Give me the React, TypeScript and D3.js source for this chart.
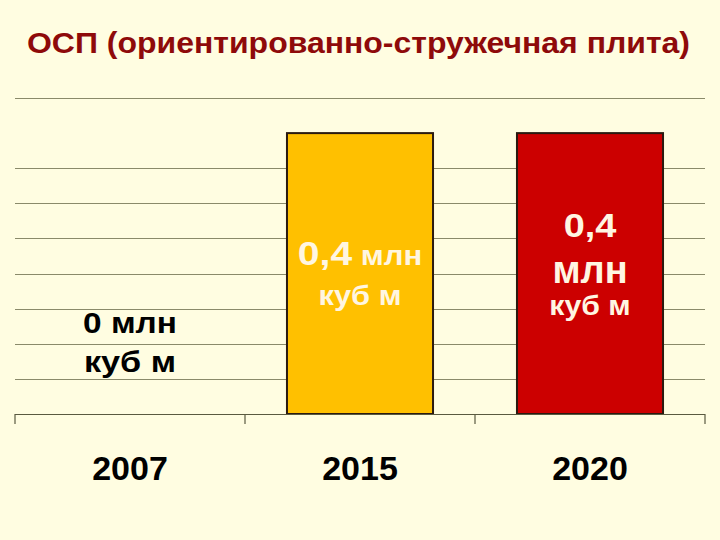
import React, { useEffect, useRef } from 'react';
import * as d3 from 'd3';

// chart data
const years = ['2007', '2015', '2020'];
const volumes = [0, 0.4, 0.4]; // млн куб м
const valueLabels = ['0', '0,4', '0,4'];
const gridValues = [0.05, 0.1, 0.15, 0.2, 0.25, 0.3, 0.35, 0.45];
const barColors = ['#FFC000', '#FFC000', '#CC0000'];
const title = 'ОСП (ориентированно-стружечная плита)';

const App = () => {
  const ref = useRef<SVGSVGElement>(null);

  useEffect(() => {
    document.body.style.margin = '0';

    const width = 720;
    const height = 540;
    const margin = { top: 98, right: 15, bottom: 126, left: 15 };
    const innerWidth = width - margin.left - margin.right;
    const innerHeight = height - margin.top - margin.bottom;

    const svg = d3.select(ref.current)
      .attr('width', width)
      .attr('height', height)
      .style('display', 'block')
      .style('font-family', '"Liberation Sans", Arial, sans-serif');

    svg.selectAll('*').remove();

    svg.append('rect')
      .attr('width', width)
      .attr('height', height)
      .attr('fill', '#FFFDE1');

    // title is a bit wider than Liberation at the same height
    svg.append('text')
      .attr('x', 27)
      .attr('y', 53)
      .attr('font-size', 29)
      .attr('font-weight', 'bold')
      .attr('fill', '#8E0A0A')
      .attr('textLength', 663)
      .attr('lengthAdjust', 'spacingAndGlyphs')
      .text(title);

    const chart = svg.append('g')
      .attr('transform', `translate(${margin.left}, ${margin.top})`);

    const x = d3.scaleBand()
      .domain(years)
      .range([0, innerWidth])
      .paddingInner(0.365)
      .paddingOuter(0.1825);

    const y = d3.scaleLinear()
      .domain([0, 0.45])
      .range([innerHeight, 0]);

    // gridlines
    chart.selectAll('line.grid')
      .data(gridValues)
      .join('line')
      .attr('class', 'grid')
      .attr('x1', 0)
      .attr('x2', innerWidth)
      .attr('y1', d => Math.round(y(d)) + 0.5)
      .attr('y2', d => Math.round(y(d)) + 0.5)
      .attr('stroke', '#8A8A6A')
      .attr('stroke-width', 1.2);

    // bars
    chart.selectAll('rect.bar')
      .data(volumes)
      .join('rect')
      .attr('class', 'bar')
      .attr('x', (d, i) => x(years[i])!)
      .attr('y', d => y(d))
      .attr('width', x.bandwidth())
      .attr('height', d => innerHeight - y(d))
      .attr('fill', (d, i) => barColors[i])
      .attr('stroke', d => (d > 0 ? '#2A1A10' : 'none'))
      .attr('stroke-width', 2);

    // x axis
    const axis = chart.append('g')
      .attr('transform', `translate(0, ${innerHeight})`);
    axis.append('line')
      .attr('x1', 0)
      .attr('x2', innerWidth)
      .attr('y1', 0.5)
      .attr('y2', 0.5)
      .attr('stroke', '#5A5A40')
      .attr('stroke-width', 1.2);
    const step = x.step();
    axis.selectAll('line.tick')
      .data(d3.range(years.length + 1))
      .join('line')
      .attr('class', 'tick')
      .attr('x1', i => Math.min(i * step, innerWidth))
      .attr('x2', i => Math.min(i * step, innerWidth))
      .attr('y1', 0)
      .attr('y2', 10)
      .attr('stroke', '#5A5A40')
      .attr('stroke-width', 1.2);
    axis.selectAll('text.year')
      .data(years)
      .join('text')
      .attr('class', 'year')
      .attr('x', d => x(d)! + x.bandwidth() / 2)
      .attr('y', 66)
      .attr('text-anchor', 'middle')
      .attr('font-size', 34)
      .attr('font-weight', 'bold')
      .attr('fill', '#000')
      .text(d => d);

    // value labels (slightly stretched horizontally like the original)
    const cx = (i: number) => x(years[i])! + x.bandwidth() / 2;
    const light = '#FFF6E2';
    const label = (g: any, px: number, py: number, size: number, sx: number) =>
      g.append('text')
        .attr('transform', `translate(${px}, ${py}) scale(${sx}, 1)`)
        .attr('font-size', size);

    // 2007
    const l0 = chart.append('g').attr('font-weight', 'bold').attr('fill', '#000')
      .attr('text-anchor', 'middle');
    label(l0, cx(0), y(volumes[0]) - 81, 29, 1.15).text(`${valueLabels[0]} млн`);
    label(l0, cx(0), y(volumes[0]) - 42, 29, 1.18).text('куб м');

    // 2015
    const l1 = chart.append('g').attr('font-weight', 'bold').attr('fill', light)
      .attr('text-anchor', 'middle');
    const t1 = label(l1, cx(1), y(volumes[1]) + 132, 34, 1.15);
    t1.append('tspan').text(valueLabels[1]);
    t1.append('tspan').attr('font-size', 27).text(' млн');
    label(l1, cx(1), y(volumes[1]) + 172, 28, 1.1).text('куб м');

    // 2020
    const l2 = chart.append('g').attr('font-weight', 'bold').attr('fill', light)
      .attr('text-anchor', 'middle');
    label(l2, cx(2), y(volumes[2]) + 104, 33, 1.15).text(valueLabels[2]);
    label(l2, cx(2), y(volumes[2]) + 150, 38, 1.0).text('млн');
    label(l2, cx(2), y(volumes[2]) + 182, 27, 1.12).text('куб м');
  }, []);

  return <svg ref={ref}></svg>;
};

export default App;
